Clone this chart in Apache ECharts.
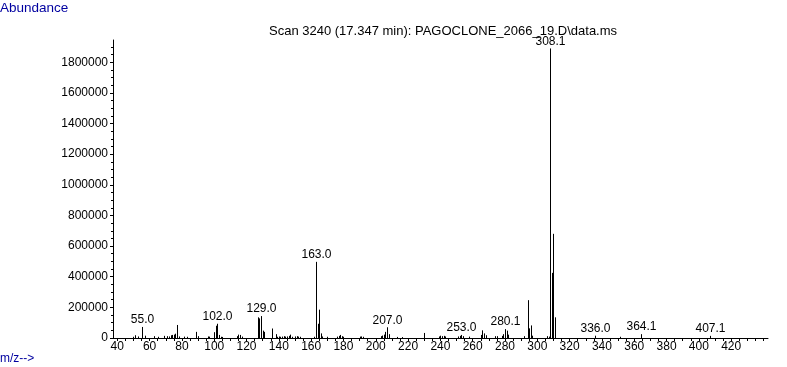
<!DOCTYPE html>
<html>
<head>
<meta charset="utf-8">
<script src="https://cdn.jsdelivr.net/npm/echarts@6/dist/echarts.min.js"></script>
<style>html,body{margin:0;padding:0;background:#fff}#c{width:787px;height:367px}</style>
</head>
<body>
<div id="c"></div>
<script>
// ---- data ----
var mz = [50,51,53,55.0,57,63,65,69,71,72,73,74,75,76,77,78,81,83,89,90,96,97,100,101,102.0,103,104,105,
  114,115,116,117,127,128,129.0,130,131,136,138,139,140,141,142,143,144,145,146,147,148,150,151,152,153,
  162,163.0,164,165,166,167,170,176,177,178,179,180,190,191,192,203,204,205,206,207.0,208,213,216,
  230,239,240,241,242,243,251,252,253.0,254,258,265,266,267,268,274,275,278,279,280.1,281,282,
  292,294,295,296,297,306,307,308.1,309,310,311,336.0,351,364.1,407.1];
var abundance = [8000,18000,10000,72000,15000,12000,8000,14000,12000,10000,18000,20000,22000,28000,85000,10000,9000,8000,40000,12000,10000,9000,38000,80000,93000,20000,8000,7000,
  12000,22000,20000,9000,135000,128000,143000,48000,40000,62000,25000,8000,10000,8000,9000,12000,9000,10000,14000,22000,8000,10000,12000,9000,8000,
  8000,497000,93000,185000,30000,10000,8000,9000,14000,20000,12000,8000,9000,10000,8000,12000,16000,22000,40000,70000,25000,7000,6000,
  33000,10000,15000,12000,14000,10000,10000,14000,20000,12000,9000,20000,50000,30000,18000,12000,12000,14000,25000,58000,48000,22000,
  12000,247000,63000,82000,15000,12000,9000,1890000,425000,680000,135000,15000,8000,25000,14000];
var peakLabels = ["55.0","102.0","129.0","163.0","207.0","253.0","280.1","308.1","336.0","364.1","407.1"];
var xTickLabels = [40,60,80,100,120,140,160,180,200,220,240,260,280,300,320,340,360,380,400,420];
var yTickLabels = [0,200000,400000,600000,800000,1000000,1200000,1400000,1600000,1800000];
var titleText = "Scan 3240 (17.347 min): PAGOCLONE_2066_19.D\\data.ms";

// ---- build ----
var points = mz.map(function(m,i){ return [m, abundance[i]]; });
var labelSet = {};
peakLabels.forEach(function(s){ labelSet[parseFloat(s).toFixed(1)] = s; });
var xMinor = [];
for (var t = 40; t <= 440; t += 5) xMinor.push(t);
var yMinor = [];
for (var u = 0; u <= 1900000; u += 50000) yMinor.push(u);

var FONT = 'Liberation Sans, Arial, sans-serif';
var chart = echarts.init(document.getElementById('c'), null, {renderer:'canvas'});
chart.setOption({
  animation: false,
  backgroundColor: '#fff',
  title: [
    {text: 'Abundance', left: 0, top: 1, padding: 0,
     textStyle: {fontFamily: FONT, fontSize: 13.5, fontWeight: 'normal', color: '#0000a0'}},
    {text: 'm/z-->', left: 0, top: 353, padding: 0,
     textStyle: {fontFamily: FONT, fontSize: 12, fontWeight: 'normal', color: '#0000a0'}},
    {text: titleText, left: 269, top: 25, padding: 0,
     textStyle: {fontFamily: FONT, fontSize: 13, fontWeight: 'normal', color: '#000'}}
  ],
  grid: {left: 113, top: 40, width: 655, bottom: 29, containLabel: false},
  xAxis: {
    type: 'value', min: 37.34, max: 442.8,
    axisLine: {lineStyle: {color: '#000', width: 1}},
    axisTick: {customValues: xMinor, length: 3, lineStyle: {color: '#000'}},
    axisLabel: {customValues: xTickLabels, margin: 3, color: '#000', fontFamily: FONT, fontSize: 12},
    splitLine: {show: false}
  },
  yAxis: [{
    type: 'value', min: 0, max: 1945000, position: 'left',
    axisLine: {show: true, lineStyle: {color: '#000', width: 1}},
    axisTick: {show: true, customValues: yTickLabels, length: 3, lineStyle: {color: '#000'}},
    axisLabel: {customValues: yTickLabels, margin: 5, color: '#000', fontFamily: FONT, fontSize: 12,
      padding: [4,0,0,0], formatter: function(v){ return String(v); }},
    splitLine: {show: false}
  }, {
    type: 'value', min: 0, max: 1945000, position: 'left', offset: 0,
    axisLine: {show: false},
    axisTick: {show: true, customValues: yMinor, length: 2, lineStyle: {color: '#000'}},
    axisLabel: {show: false},
    splitLine: {show: false}
  }],
  series: [{
    type: 'custom',
    xAxisIndex: 0, yAxisIndex: 0,
    data: points,
    clip: false,
    renderItem: function(params, api){
      var m = api.value(0), v = api.value(1);
      var top = api.coord([m, v]);
      var base = api.coord([m, 0]);
      var x = Math.round(top[0]) + 0.5;
      var children = [{
        type: 'line',
        shape: {x1: x, y1: base[1], x2: x, y2: top[1]},
        style: {stroke: '#000', lineWidth: 1}
      }];
      var key = Number(m).toFixed(1);
      if (labelSet[key] && peakLabels.indexOf(key) >= 0 && mz.indexOf(m) === params.dataIndex) {
        children.push({
          type: 'text',
          style: {text: labelSet[key], x: x, y: top[1] - 1, align: 'center', verticalAlign: 'bottom',
            font: '12px ' + FONT, fill: '#000'}
        });
      }
      return {type: 'group', children: children};
    }
  }]
});
</script>
</body>
</html>
